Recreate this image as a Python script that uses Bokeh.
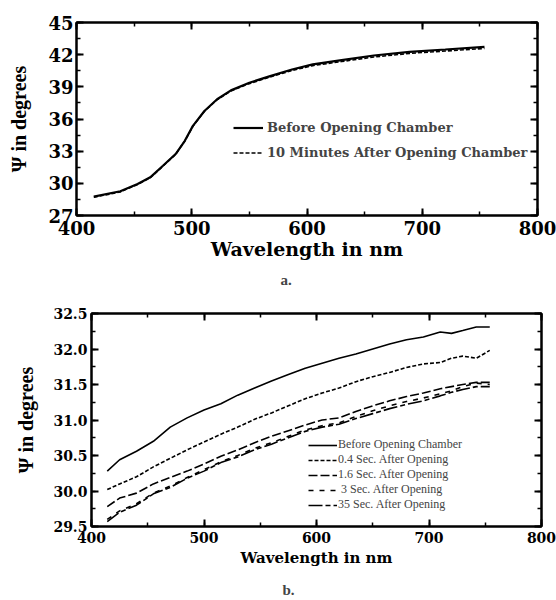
from bokeh.plotting import figure
from bokeh.models import (Range1d, SingleIntervalTicker, LinearAxis, Legend, LegendItem,
                          Title, CustomJSTickFormatter)
from bokeh.layouts import column, row
from bokeh.embed import file_html
from bokeh.resources import INLINE

# ---------------- panel a: full spectrum ----------------
wl_a = [415, 438, 453, 464, 475, 486, 494, 501, 511, 522, 534, 550, 568, 587,
        605, 630, 658, 689, 720, 754]
psi_before_a = [28.76, 29.26, 29.94, 30.56, 31.64, 32.73, 33.97, 35.36, 36.75, 37.84,
                38.67, 39.38, 40.00, 40.62, 41.09, 41.49, 41.92, 42.26, 42.48, 42.73]
psi_10min_a = [28.70, 29.20, 29.90, 30.52, 31.60, 32.70, 33.95, 35.33, 36.72, 37.80,
               38.62, 39.30, 39.92, 40.52, 40.98, 41.36, 41.78, 42.12, 42.34, 42.58]
labels_a = ["Before Opening Chamber", "10 Minutes After Opening Chamber"]

# ---------------- panel b: short times after opening ----------------
wl_b = [414, 425, 440, 455, 470, 485, 500, 515, 530, 545, 560, 575, 590, 605,
        620, 635, 650, 665, 680, 695, 710, 720, 730, 742, 754]
psi_before_b = [30.28, 30.44, 30.56, 30.70, 30.90, 31.03, 31.14, 31.23, 31.35, 31.45,
                31.55, 31.64, 31.73, 31.80, 31.87, 31.93, 32.00, 32.07, 32.13, 32.17,
                32.24, 32.22, 32.26, 32.31, 32.31]
psi_04s_b = [30.02, 30.10, 30.20, 30.34, 30.46, 30.58, 30.69, 30.80, 30.90, 31.01,
             31.10, 31.20, 31.30, 31.38, 31.45, 31.54, 31.61, 31.67, 31.74, 31.79,
             31.81, 31.87, 31.90, 31.87, 31.98]
psi_16s_b = [29.78, 29.90, 29.97, 30.10, 30.19, 30.28, 30.38, 30.49, 30.58, 30.68,
             30.77, 30.85, 30.93, 31.00, 31.03, 31.12, 31.20, 31.27, 31.33, 31.38,
             31.44, 31.47, 31.50, 31.53, 31.53]
psi_3s_b = [29.60, 29.72, 29.82, 29.97, 30.07, 30.19, 30.30, 30.41, 30.50, 30.60,
            30.68, 30.77, 30.86, 30.92, 30.96, 31.05, 31.13, 31.20, 31.26, 31.31,
            31.37, 31.41, 31.47, 31.52, 31.50]
psi_35s_b = [29.57, 29.70, 29.80, 29.96, 30.05, 30.18, 30.28, 30.40, 30.48, 30.58,
             30.66, 30.75, 30.84, 30.90, 30.94, 31.02, 31.09, 31.16, 31.22, 31.27,
             31.34, 31.39, 31.43, 31.47, 31.47]
labels_b = ["Before Opening Chamber", "0.4 Sec. After Opening", "1.6 Sec. After Opening",
            " 3 Sec. After Opening", "35 Sec. After Opening"]

X_LABEL = "Wavelength in nm"
Y_LABEL = "\u03a8 in degrees"
SERIF = "Liberation Serif"
WIDE = "DejaVu Serif"


def style_axis(ax, font, size):
    ax.axis_line_width = 2
    ax.axis_line_color = "black"
    ax.major_tick_in = 7
    ax.major_tick_out = 0
    ax.minor_tick_in = 4
    ax.minor_tick_out = 0
    ax.major_tick_line_width = 2
    ax.minor_tick_line_width = 1.5
    ax.major_label_text_font = font
    ax.major_label_text_font_style = "bold"
    ax.major_label_text_font_size = size
    ax.major_label_text_color = "black"
    ax.axis_label_text_color = "black"


def frame_axes(p, xstep, ystep):
    # plain tick-only axes on the top and right edges
    for loc, step in (("above", xstep), ("right", ystep)):
        ax = LinearAxis(ticker=SingleIntervalTicker(interval=step, num_minor_ticks=2),
                        formatter=CustomJSTickFormatter(code="return ''"),
                        major_label_standoff=0, axis_label_standoff=0)
        style_axis(ax, SERIF, "1px")
        p.add_layout(ax, loc)


def base_figure(frame_w, frame_h, xr, yr, borders):
    left, right, top, bottom = borders
    p = figure(frame_width=frame_w, frame_height=frame_h,
               x_range=Range1d(*xr), y_range=Range1d(*yr),
               output_backend="svg", toolbar_location=None,
               min_border_left=left, min_border_right=right,
               min_border_top=top, min_border_bottom=bottom)
    p.grid.visible = False
    p.outline_line_color = "black"
    p.outline_line_width = 2
    p.background_fill_color = "white"
    p.border_fill_color = "white"
    return p


# ---------------- panel a ----------------
pa = base_figure(461, 193, (400, 800), (27, 45), (76, 19, 22, 80))
pa.xaxis.ticker = SingleIntervalTicker(interval=100, num_minor_ticks=2)
pa.yaxis.ticker = SingleIntervalTicker(interval=3, num_minor_ticks=2)
for ax in pa.xaxis + pa.yaxis:
    style_axis(ax, WIDE, "18px")
pa.xaxis.major_label_standoff = 5
pa.yaxis.major_label_standoff = 3
pa.xaxis.axis_label = X_LABEL
pa.xaxis.axis_label_text_font = WIDE
pa.xaxis.axis_label_text_font_style = "bold"
pa.xaxis.axis_label_text_font_size = "19px"
pa.xaxis.axis_label_standoff = 0
pa.yaxis.axis_label = Y_LABEL
pa.yaxis.axis_label_text_font = SERIF
pa.yaxis.axis_label_text_font_style = "bold"
pa.yaxis.axis_label_text_font_size = "20px"
pa.yaxis.axis_label_standoff = 15
frame_axes(pa, 100, 3)

ra1 = pa.line(wl_a, psi_before_a, line_color="black", line_width=2.2)
ra2 = pa.line(wl_a, psi_10min_a, line_color="black", line_width=1.6, line_dash="4 2")
leg_a = Legend(items=[LegendItem(label=labels_a[0], renderers=[ra1]),
                      LegendItem(label=labels_a[1], renderers=[ra2])],
               location=(157, 54), padding=0, margin=0, spacing=8,
               glyph_width=30, glyph_height=17, label_height=17, label_standoff=4,
               background_fill_alpha=0, border_line_alpha=0,
               label_text_font=WIDE, label_text_font_style="bold",
               label_text_font_size="13px")
pa.add_layout(leg_a)
pa.add_layout(Title(text="a.", align="left", offset=204, standoff=14, text_font=SERIF,
                    text_font_style="bold", text_font_size="15px"), "below")

# ---------------- panel b ----------------
pb = base_figure(450, 213, (400, 800), (29.5, 32.5), (91, 15, 18, 74))
pb.xaxis.ticker = SingleIntervalTicker(interval=100, num_minor_ticks=2)
pb.yaxis.ticker = SingleIntervalTicker(interval=0.5, num_minor_ticks=2)
for ax in pb.xaxis + pb.yaxis:
    style_axis(ax, WIDE, "14px")
pb.yaxis.formatter = CustomJSTickFormatter(code="return tick.toFixed(1)")
pb.xaxis.major_label_standoff = 5
pb.yaxis.major_label_standoff = 4
pb.xaxis.axis_label = X_LABEL
pb.xaxis.axis_label_text_font = WIDE
pb.xaxis.axis_label_text_font_style = "bold"
pb.xaxis.axis_label_text_font_size = "15px"
pb.xaxis.axis_label_standoff = 3
pb.yaxis.axis_label = Y_LABEL
pb.yaxis.axis_label_text_font = SERIF
pb.yaxis.axis_label_text_font_style = "bold"
pb.yaxis.axis_label_text_font_size = "20px"
pb.yaxis.axis_label_standoff = 13
frame_axes(pb, 100, 0.5)

series_b = [psi_before_b, psi_04s_b, psi_16s_b, psi_3s_b, psi_35s_b]
dashes_b = ["solid", "4 2", "9 3", "5 6", "14 3 5 3"]
renderers_b = []
for ys, dash in zip(series_b, dashes_b):
    renderers_b.append(pb.line(wl_b, ys, line_color="black", line_width=1.6, line_dash=dash))
leg_b = Legend(items=[LegendItem(label=lab, renderers=[r]) for lab, r in zip(labels_b, renderers_b)],
               location=(217, 14), padding=0, margin=0, spacing=0,
               glyph_width=29, glyph_height=12, label_height=12, label_standoff=1,
               background_fill_alpha=0, border_line_alpha=0,
               label_text_font=SERIF, label_text_font_size="12px")
pb.add_layout(leg_b)
pb.add_layout(Title(text="b.", align="left", offset=191, standoff=20, text_font=SERIF,
                    text_font_style="bold", text_font_size="15px"), "below")

# each panel sits in its own row so the two frames are laid out independently
layout = column(row(pa), row(pb))
open("out.html", "w").write(file_html(layout, INLINE))
